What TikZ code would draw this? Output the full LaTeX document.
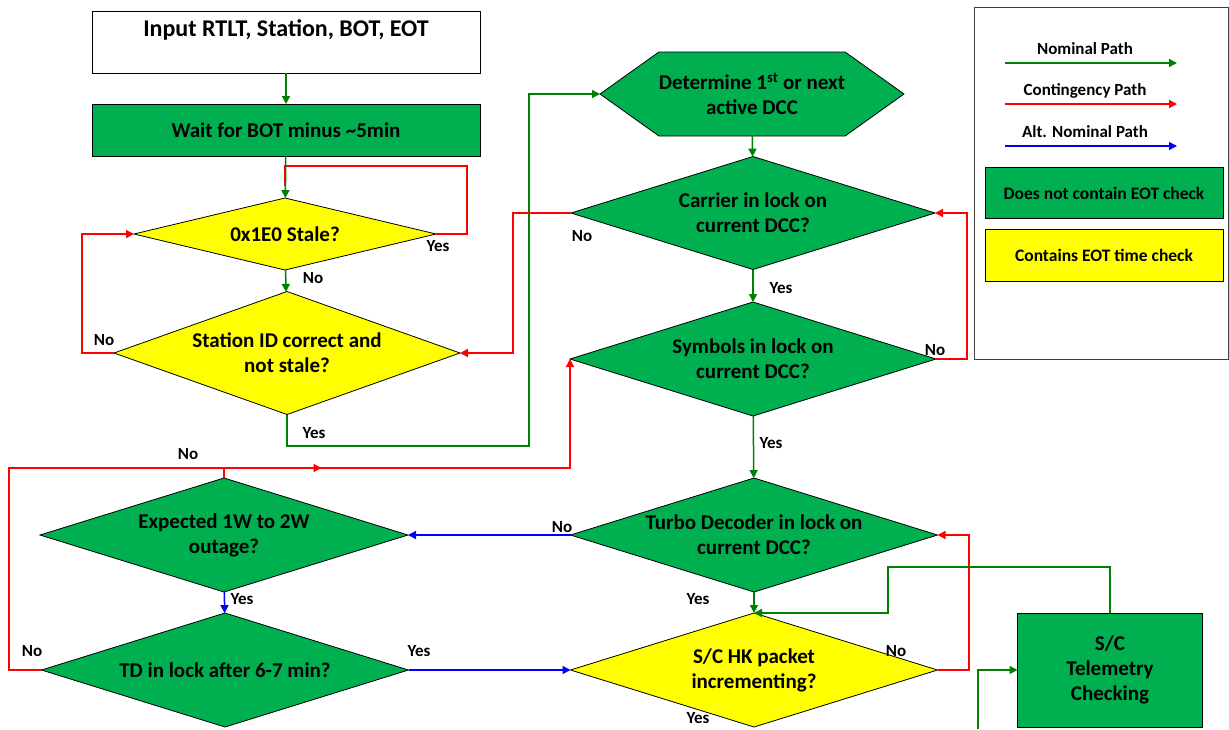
\documentclass[tikz,border=0pt]{standalone}
\usepackage{fontspec}
\setmainfont{Carlito}
\usepackage{tikz}
\usetikzlibrary{arrows.meta, positioning, calc, shapes.geometric, shapes.symbols, decorations.markings}

\definecolor{boxgreen}{RGB}{0,176,80}
\definecolor{linegreen}{RGB}{0,128,0}
\definecolor{boxyellow}{RGB}{255,255,0}

\begin{document}
\begin{tikzpicture}[x=1pt, y=-1pt,
    every node/.style={font=\bfseries\fontsize{21}{25}\selectfont, align=center, inner sep=0pt, outer sep=0pt},
    decision/.style={diamond, draw, aspect=3.2, inner sep=-4pt, line width=0.8pt},
    process/.style={rectangle, draw, line width=0.8pt},
    tag/.style={font=\bfseries\fontsize{17}{20}\selectfont},
    keybox/.style={process, minimum width=238pt, font=\bfseries\fontsize{17.5}{20}\selectfont},
    nompath/.style={draw=linegreen, line width=1.5pt},
    conpath/.style={draw=red, line width=1.5pt},
    altpath/.style={draw=blue, line width=1.5pt},
    >={Triangle[length=8pt, width=8pt]}
]
    \useasboundingbox (0,0) rectangle (1229,729);

    \node[process, minimum width=388pt, minimum height=62pt, font=\bfseries\fontsize{24}{27}\selectfont] (input) at (286,42) {Input RTLT, Station, BOT, EOT\\~};
    \node[process, fill=boxgreen, minimum width=388pt, minimum height=52pt] (wait) at (286,130) {Wait for BOT minus \textasciitilde5min};
    \node[decision, fill=boxyellow, minimum width=302pt, minimum height=72pt] (stale) at (285,234) {0x1E0 Stale?};
    \node[decision, fill=boxyellow, minimum width=346pt, minimum height=123pt] (station) at (287,353) {Station ID correct and\\not stale?};

    \node[signal, signal to=west and east, signal pointer angle=71, draw, line width=0.8pt, fill=boxgreen, minimum width=302pt, minimum height=84pt] (active) at (752,94) {Determine 1\textsuperscript{st} or next\\active DCC};
    \node[decision, fill=boxgreen, minimum width=364pt, minimum height=113pt] (carrier) at (753,213) {Carrier in lock on\\current DCC?};
    \node[decision, fill=boxgreen, minimum width=366pt, minimum height=114pt] (symbols) at (753,359) {Symbols in lock on\\current DCC?};
    \node[decision, fill=boxgreen, minimum width=367pt, minimum height=114pt] (turbo) at (754,535) {Turbo Decoder in lock on\\current DCC?};
    \node[decision, fill=boxyellow, minimum width=367pt, minimum height=114pt] (hk) at (754,670) {S/C HK packet\\incrementing?};

    \node[decision, fill=boxgreen, minimum width=368pt, minimum height=114pt] (outage) at (224,535) {Expected 1W to 2W\\outage?};
    \node[decision, fill=boxgreen, minimum width=367pt, minimum height=114pt] (td) at (225,670) {TD in lock after 6-7 min?};
    \node[process, fill=boxgreen, minimum width=185pt, minimum height=114pt] (tlm) at (1110,670) {S/C\\Telemetry\\Checking};

    \node[process, draw=black!75, minimum width=254pt, minimum height=352pt] (legend) at (1101,183) {};
    \node[tag] (lnom) at (1085,49) {Nominal Path};
    \node[tag] (lcon) at (1085,91) {Contingency Path};
    \node[tag] (lalt) at (1085,132) {Alt. Nominal Path};
    \coordinate (lnoma) at (1005,63);
    \coordinate (lnomb) at (1177,63);
    \coordinate (lcona) at (1005,104);
    \coordinate (lconb) at (1177,104);
    \coordinate (lalta) at (1005,146);
    \coordinate (laltb) at (1177,146);
    \draw[nompath, ->] (lnoma) -- (lnomb);
    \draw[conpath, ->] (lcona) -- (lconb);
    \draw[altpath, ->] (lalta) -- (laltb);
    \node[keybox, fill=boxgreen, minimum height=51pt] (lgreen) at (1104,193) {Does not contain EOT check};
    \node[keybox, fill=boxyellow, minimum height=52pt] (lyellow) at (1104,255) {Contains EOT time check};

    \coordinate (redrail) at (0,468);
    \coordinate (tlmfeed) at (978,729);

    \draw[nompath, ->] (input) -- (wait);
    \draw[conpath] (stale.east) -| (467,166) -| (285,186);
    \draw[nompath, ->] (wait) -- (stale);
    \draw[nompath, ->] (stale) -- (station);
    \draw[conpath, ->] (station.west) -| (82,234) -- (stale.west);
    \draw[nompath, ->] (station.south) |- (529,446) |- (active.west);
    \draw[nompath, ->] (active) -- (carrier);
    \draw[conpath, ->] (carrier.west) -| (513,353) -- (station.east);
    \draw[nompath, ->] (carrier) -- (symbols);
    \draw[conpath, ->] (symbols.east) -| (967,213) -- (carrier.east);
    \draw[nompath, ->] (symbols) -- (turbo);
    \draw[altpath, ->] (turbo.west) -- (outage.east);
    \draw[nompath, ->] (turbo) -- (hk);
    \draw[conpath, ->] (hk.east) -| (969,535) -- (turbo.east);
    \draw[altpath, ->] (outage) -- (td);
    \draw[altpath, ->] (td.east) -- (hk.west);
    \draw[conpath, ->, postaction={decorate}, decoration={markings, mark=at position 547pt with {\arrow{>}}}] (td.west) -| (redrail -| 9,0) -| (symbols.west);
    \draw[conpath] (outage.north) -- (outage.north |- redrail);
    \draw[nompath, ->] (tlm.north) |- (888,567) |- (hk.north);
    \draw[nompath, ->] (tlmfeed) |- (tlm.west);

    \node[tag] (yStale) at (438,246) {Yes};
    \node[tag] (nStale) at (313,278) {No};
    \node[tag] (nStation) at (104,340) {No};
    \node[tag] (yStation) at (314,433) {Yes};
    \node[tag] (nCarrier) at (582,236) {No};
    \node[tag] (yCarrier) at (781,288) {Yes};
    \node[tag] (nSymbols) at (935,350) {No};
    \node[tag] (ySymbols) at (771,443) {Yes};
    \node[tag] (nOutage) at (188,454) {No};
    \node[tag] (nTurbo) at (562,527) {No};
    \node[tag] (yTurbo) at (698,599) {Yes};
    \node[tag] (yOutage) at (242,599) {Yes};
    \node[tag] (nTd) at (32,651) {No};
    \node[tag] (yTd) at (419,651) {Yes};
    \node[tag] (nHk) at (896,651) {No};
    \node[tag] (yHk) at (698,718) {Yes};
\end{tikzpicture}
\end{document}
